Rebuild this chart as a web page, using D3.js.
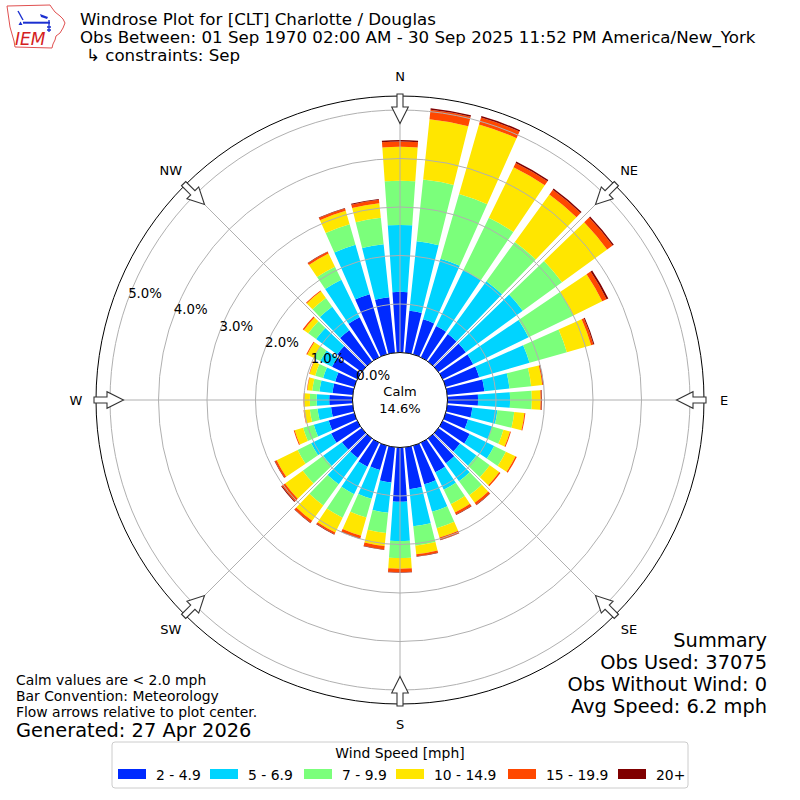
<!DOCTYPE html>
<html><head><meta charset="utf-8">
<script src="https://cdn.jsdelivr.net/npm/d3@7"></script>
<style>body{margin:0;background:#fff}svg{display:block}text{font-family:"DejaVu Sans",sans-serif}</style>
</head><body>
<svg id="chart" width="800" height="800"></svg>
<script>
// ---- data ----
const directions = [0,10,20,30,40,50,60,70,80,90,100,110,120,130,140,150,160,170,180,190,200,210,220,230,240,250,260,270,280,290,300,310,320,330,340,350];
const speedBins = ["2 - 4.9","5 - 6.9","7 - 9.9","10 - 14.9","15 - 19.9","20+"];
const binColors = ["#002aff","#00d4ff","#7bff7b","#ffe600","#ff4800","#800000"];
// percent of observations per direction, per speed bin
const pct2to4_9   = [1.25,0.87,0.75,0.72,0.70,0.70,0.70,0.72,0.77,0.63,0.52,0.48,0.62,0.55,0.63,0.68,0.83,0.87,1.12,0.73,0.52,0.55,0.50,0.50,0.60,0.55,0.45,0.48,0.42,0.41,0.58,0.62,0.80,0.92,1.29,1.15];
const pct5to6_9   = [1.38,1.44,1.30,1.28,1.35,1.45,1.27,1.08,0.52,0.66,0.52,0.52,0.56,0.42,0.46,0.40,0.59,0.77,0.81,0.63,0.62,0.63,0.67,0.48,0.46,0.32,0.28,0.26,0.27,0.26,0.27,0.54,0.60,0.86,1.06,1.10];
const pct7to9_9   = [0.91,1.28,1.39,1.20,1.00,1.00,1.03,0.80,0.45,0.45,0.35,0.24,0.27,0.34,0.36,0.33,0.35,0.40,0.35,0.42,0.40,0.54,0.54,0.52,0.31,0.23,0.16,0.14,0.15,0.17,0.15,0.20,0.22,0.30,0.44,0.55];
const pct10to14_9 = [0.70,1.25,1.49,1.16,1.21,1.15,0.66,0.52,0.23,0.18,0.21,0.14,0.22,0.24,0.19,0.19,0.20,0.18,0.22,0.27,0.39,0.34,0.39,0.45,0.48,0.18,0.12,0.12,0.10,0.12,0.15,0.11,0.17,0.30,0.29,0.30];
const pct15to19_9 = [0.11,0.20,0.15,0.10,0.12,0.14,0.10,0.05,0.02,0.02,0.02,0.02,0.03,0.03,0.05,0.05,0.05,0.04,0.07,0.07,0.06,0.04,0.05,0.08,0.04,0.02,0.01,0.01,0.01,0.01,0.02,0.03,0.02,0.04,0.05,0.07];
const pct20plus   = [0.03,0.03,0.03,0.03,0.03,0.03,0.04,0.02,0.01,0.01,0,0,0,0,0.01,0.01,0.01,0.01,0.01,0.01,0.01,0.01,0.01,0.02,0.01,0,0,0,0,0,0,0,0,0.01,0.01,0.02];
const radialTicks = [0,1,2,3,4,5];
const compassNames = ["N","NE","E","SE","S","SW","W","NW"];
const compassAngles = [0,45,90,135,180,225,270,315];
const calmPct = 14.6;
const titleLines = ["Windrose Plot for [CLT] Charlotte / Douglas","Obs Between: 01 Sep 1970 02:00 AM - 30 Sep 2025 11:52 PM America/New_York","\u21B3 constraints: Sep"];
const summaryLines = ["Summary","Obs Used: 37075","Obs Without Wind: 0","Avg Speed: 6.2 mph"];
const noteLines = ["Calm values are < 2.0 mph","Bar Convention: Meteorology","Flow arrows relative to plot center."];
const generatedText = "Generated: 27 Apr 2026";
const legendTitle = "Wind Speed [mph]";

// ---- build table ----
const series = [pct2to4_9,pct5to6_9,pct7to9_9,pct10to14_9,pct15to19_9,pct20plus];
const keys = speedBins;
const table = directions.map((d,i)=>{const o={dir:d}; keys.forEach((k,j)=>o[k]=series[j][i]); return o;});
const stacked = d3.stack().keys(keys)(table);

const svg = d3.select("#chart");
const cx=400, cy=400;
const r = d3.scaleLinear().domain([0,5]).range([47.5,290]);
const rOuter = 304;
const rad = d=>d*Math.PI/180;
const g = svg.append("g").attr("transform",`translate(${cx},${cy})`);

// bars
const arc = d3.arc()
  .innerRadius(d=>r(d[0])).outerRadius(d=>r(d[1]))
  .startAngle(d=>rad(d.data.dir-4)).endAngle(d=>rad(d.data.dir+4));
stacked.forEach((layer,j)=>{
  g.append("g").selectAll("path").data(layer.filter(d=>d[1]-d[0]>0)).join("path")
    .attr("d",arc).attr("fill",binColors[j]);
});

// grid rings
g.append("g").selectAll("circle").data(radialTicks.filter(t=>t>0)).join("circle")
  .attr("r",d=>r(d)).attr("fill","none").attr("stroke","#b0b0b0").attr("stroke-width",1);
// radial lines
g.append("g").selectAll("line").data(compassAngles).join("line")
  .attr("x1",d=>r(0)*Math.sin(rad(d))).attr("y1",d=>-r(0)*Math.cos(rad(d)))
  .attr("x2",d=>rOuter*Math.sin(rad(d))).attr("y2",d=>-rOuter*Math.cos(rad(d)))
  .attr("stroke","#b0b0b0").attr("stroke-width",1);

// calm circle
g.append("circle").attr("r",r(0)).attr("fill","#fff").attr("stroke","#000").attr("stroke-width",1);
g.append("text").attr("x",0).attr("y",-4).attr("text-anchor","middle").attr("font-size",13).text("Calm");
g.append("text").attr("x",0).attr("y",13).attr("text-anchor","middle").attr("font-size",13).text(calmPct.toFixed(1)+"%");

// outer circle
g.append("circle").attr("r",rOuter).attr("fill","none").attr("stroke","#000").attr("stroke-width",1);

// radial labels
const la = rad(19.8);
g.append("g").selectAll("text").data(radialTicks).join("text")
  .attr("x",d=>-r(d)*Math.cos(la)+1).attr("y",d=>-r(d)*Math.sin(la)-4)
  .attr("font-size",13.3).text(d=>d.toFixed(1)+"%");

// arrows
const arrowPts = [[-3,-306],[3,-306],[3,-293],[8.3,-293],[0,-276.5],[-8.3,-293],[-3,-293]];
g.append("g").selectAll("path").data(compassAngles).join("path")
  .attr("d","M"+arrowPts.map(p=>p.join(",")).join("L")+"Z")
  .attr("transform",d=>`rotate(${d})`)
  .attr("fill","#fff").attr("stroke","#333").attr("stroke-width",1.1);

// compass labels
g.append("g").selectAll("text").data(compassAngles).join("text")
  .attr("x",d=>324*Math.sin(rad(d))).attr("y",d=>-324*Math.cos(rad(d)))
  .attr("text-anchor","middle").attr("dominant-baseline","central")
  .attr("font-size",13).text((d,i)=>compassNames[i]);

// title
svg.append("text").attr("x",80).attr("y",25).attr("font-size",16.67).text(titleLines[0]);
svg.append("text").attr("x",80).attr("y",43).attr("font-size",16.67).text(titleLines[1]);
svg.append("text").attr("x",86).attr("y",61).attr("font-size",16.67).text(titleLines[2]);

// logo
const logo = svg.append("g");
logo.append("path").attr("d","M7,6 L50,5 L52,8 L55,12 L60,16 L63,19 L65,23 L63,28 L60,33 L56,36 L55,40 L53,44 L52,48 L15,47 L14,41 L12,34 L10,27 L9,20 L8,13 Z")
  .attr("fill","#fff").attr("stroke","#e05050").attr("stroke-width",1);
logo.append("line").attr("x1",23).attr("y1",22.7).attr("x2",50).attr("y2",22.7).attr("stroke","#1a2fd0").attr("stroke-width",2);
logo.append("path").attr("d","M40,14 L48,17 L47,19 L41,17 Z").attr("fill","#1a2fd0");
logo.append("path").attr("d","M18,11 L23,20").attr("stroke","#1a2fd0").attr("stroke-width",1.4);
logo.append("path").attr("d","M18.5,25 L20.5,21.5 L22.5,25 Z").attr("fill","#1a2fd0");
logo.append("path").attr("d","M49,20 L49,32 M47,27 L51,27 M47,30 L51,30").attr("stroke","#1a2fd0").attr("stroke-width",1.3);
logo.append("text").attr("x",15).attr("y",45).attr("font-family","Liberation Serif").attr("font-style","italic")
  .attr("font-size",17).attr("fill","#d42020").text("IEM");

// notes
noteLines.forEach((t,i)=>svg.append("text").attr("x",16).attr("y",685+i*16.2).attr("font-size",13.9).text(t));
svg.append("text").attr("x",16).attr("y",737).attr("font-size",19.4).text(generatedText);

// summary
summaryLines.forEach((t,i)=>svg.append("text").attr("x",767).attr("y",647+i*22).attr("text-anchor","end").attr("font-size",19.4).text(t));

// legend
const lg = svg.append("g");
lg.append("rect").attr("x",112).attr("y",742).attr("width",576).attr("height",46).attr("rx",3)
  .attr("fill","#fff").attr("stroke","#cccccc").attr("stroke-width",1);
lg.append("text").attr("x",400).attr("y",758).attr("text-anchor","middle").attr("font-size",13.9).text(legendTitle);
const swX = [118,210,304,396,508,618];
speedBins.forEach((b,i)=>{
  lg.append("rect").attr("x",swX[i]).attr("y",769).attr("width",28).attr("height",10).attr("fill",binColors[i]);
  lg.append("text").attr("x",swX[i]+38).attr("y",779.5).attr("font-size",13.9).text(b);
});
</script>
</body></html>
